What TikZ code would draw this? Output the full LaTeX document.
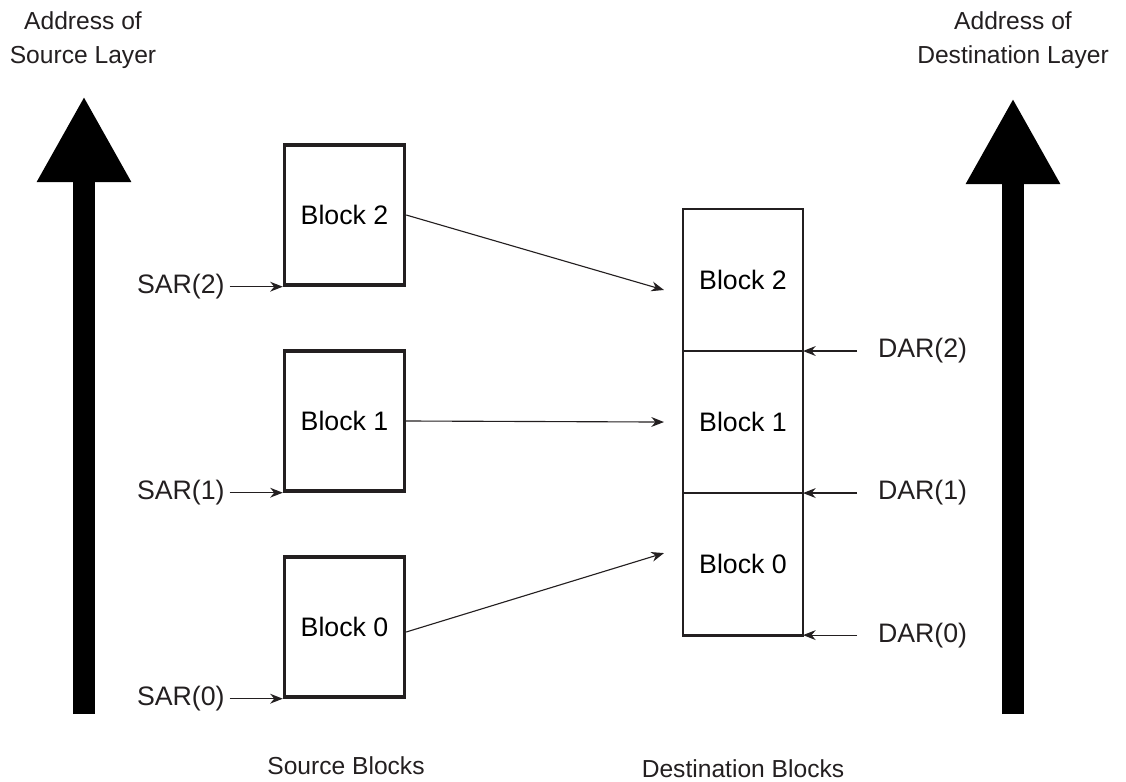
\documentclass[tikz,border=0pt]{standalone}
\usepackage{fontspec}
\setmainfont{Liberation Sans}
\usetikzlibrary{arrows.meta,positioning,calc}
\definecolor{inkblack}{RGB}{35,31,32}
\tikzset{
  srcblock/.style={
    rectangle, draw=inkblack, line width=2.4pt,
    minimum width=3cm, minimum height=3.5cm,
    font=\fontsize{19}{23}\selectfont
  },
  dstblock/.style={
    srcblock, line width=2pt, minimum height=3.55cm, outer sep=0pt
  },
  reglabel/.style={font=\fontsize{19}{23}\selectfont, text=inkblack},
  caption/.style={font=\fontsize{17.5}{24}\selectfont, text=inkblack, align=center},
  ptr/.style={-{Stealth[length=9pt,width=7pt]}, line width=0.8pt, color=inkblack},
  addrarrow/.style={line width=0.55cm, -{Triangle[length=2.15cm,width=2.2cm]}}
}
\begin{document}
\begin{tikzpicture}[x=0.025cm, y=-0.025cm]
  \useasboundingbox (0,0) rectangle (1126,782);

  % Address axes
  \coordinate (srcfoot) at (84,714);
  \coordinate (srctip)  at (84,96);
  \coordinate (dstfoot) at (1013,714);
  \coordinate (dsttip)  at (1013,98);
  \draw[addrarrow] (srcfoot) -- (srctip);
  \draw[addrarrow] (dstfoot) -- (dsttip);
  \node[caption] (srcaddr) at (83,40) {Address of\\Source Layer};
  \node[caption] (dstaddr) at (1013,40) {Address of\\Destination Layer};

  % Source blocks
  \node[srcblock] (src2) at (344.5,215) {Block 2};
  \node[srcblock] (src1) at (344.5,421) {Block 1};
  \node[srcblock] (src0) at (344.5,627) {Block 0};

  % Destination blocks
  \node[dstblock] (dst2) at (743,280) {Block 2};
  \node[dstblock, below=0pt of dst2] (dst1) {Block 1};
  \node[dstblock, below=0pt of dst1] (dst0) {Block 0};

  % Source address registers
  \node[reglabel, left=1.33cm of src2.south west] (sar2) {SAR(2)};
  \node[reglabel, left=1.33cm of src1.south west] (sar1) {SAR(1)};
  \node[reglabel, left=1.33cm of src0.south west] (sar0) {SAR(0)};
  \draw[ptr] (sar2) -- (src2.south west);
  \draw[ptr] (sar1) -- (src1.south west);
  \draw[ptr] (sar0) -- (src0.south west);

  % Destination address registers
  \node[reglabel, right=1.75cm of dst2.south east] (dar2) {DAR(2)};
  \node[reglabel, right=1.75cm of dst1.south east] (dar1) {DAR(1)};
  \node[reglabel, right=1.75cm of dst0.south east] (dar0) {DAR(0)};
  \draw[ptr, shorten <=0.4cm] (dar2) -- (dst2.south east);
  \draw[ptr, shorten <=0.4cm] (dar1) -- (dst1.south east);
  \draw[ptr, shorten <=0.4cm] (dar0) -- (dst0.south east);

  % Block moves
  \draw[ptr] (src2.east) -- ([shift={(-19,10)}]dst2.west);
  \draw[ptr] (src1.east) -- ([shift={(-19,0)}]dst1.west);
  \draw[ptr] ([shift={(0,5)}]src0.east) -- ([shift={(-19,-11)}]dst0.west);

  \node[caption] (srccap) at (346,766) {Source Blocks};
  \node[caption] (dstcap) at (743,769) {Destination Blocks};
\end{tikzpicture}
\end{document}
